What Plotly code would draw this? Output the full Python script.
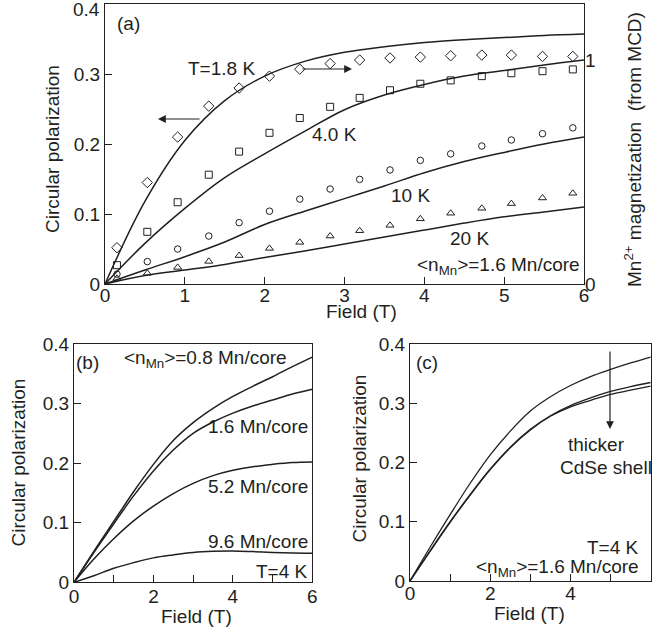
import plotly.graph_objects as go

# ---------------- data ----------------
# Panel (a): lines = circular polarization, markers = Mn2+ magnetization (right axis)
field_a = [0, 0.5, 1.0, 1.5, 2.0, 2.5, 3.0, 3.5, 4.0, 4.5, 5.0, 5.5, 6.0]
pol_18K = [0, 0.118, 0.205, 0.262, 0.297, 0.318, 0.331, 0.339, 0.345, 0.349, 0.352, 0.355, 0.357]
pol_40K = [0, 0.058, 0.108, 0.152, 0.186, 0.218, 0.249, 0.27, 0.285, 0.297, 0.305, 0.313, 0.32]
pol_10K = [0, 0.02, 0.039, 0.06, 0.085, 0.104, 0.122, 0.14, 0.159, 0.175, 0.188, 0.2, 0.21]
pol_20K = [0, 0.012, 0.02, 0.028, 0.038, 0.047, 0.057, 0.067, 0.077, 0.087, 0.096, 0.103, 0.11]

field_m = [0.15, 0.53, 0.91, 1.30, 1.68, 2.06, 2.44, 2.82, 3.19, 3.57, 3.95, 4.33, 4.72, 5.09, 5.48, 5.86]
mag_18K = [0.162, 0.453, 0.656, 0.794, 0.875, 0.928, 0.959, 0.984, 1.0, 1.009, 1.013, 1.019, 1.022, 1.022, 1.016, 1.016]
mag_40K = [0.084, 0.233, 0.365, 0.488, 0.591, 0.675, 0.741, 0.791, 0.831, 0.865, 0.894, 0.909, 0.928, 0.941, 0.95, 0.958]
mag_10K = [0.044, 0.1, 0.156, 0.214, 0.274, 0.325, 0.379, 0.424, 0.467, 0.509, 0.552, 0.581, 0.616, 0.643, 0.671, 0.697]
mag_20K = [0.025, 0.048, 0.074, 0.101, 0.127, 0.159, 0.186, 0.214, 0.238, 0.262, 0.291, 0.316, 0.338, 0.359, 0.384, 0.405]

# Panel (b): T = 4 K, different Mn concentrations
field_b = [0, 0.5, 1.0, 1.5, 2.0, 2.5, 3.0, 3.5, 4.0, 4.5, 5.0, 5.5, 6.0]
pol_08 = [0, 0.052, 0.102, 0.152, 0.198, 0.238, 0.268, 0.292, 0.312, 0.329, 0.345, 0.362, 0.378]
pol_16 = [0, 0.05, 0.098, 0.145, 0.187, 0.222, 0.25, 0.269, 0.284, 0.296, 0.306, 0.316, 0.324]
pol_52 = [0, 0.039, 0.073, 0.103, 0.128, 0.149, 0.166, 0.179, 0.188, 0.194, 0.198, 0.201, 0.202]
pol_96 = [0, 0.011, 0.0235, 0.033, 0.041, 0.046, 0.05, 0.052, 0.0526, 0.0515, 0.05, 0.049, 0.0487]

# Panel (c): T = 4 K, 1.6 Mn/core, increasing CdSe shell thickness
field_c = [0, 0.5, 1.0, 1.5, 2.0, 2.5, 3.0, 3.5, 4.0, 4.5, 5.0, 5.5, 6.0]
pol_shell1 = [0, 0.057, 0.112, 0.165, 0.213, 0.253, 0.287, 0.311, 0.33, 0.345, 0.357, 0.368, 0.378]
pol_shell2 = [0, 0.051, 0.1, 0.146, 0.189, 0.226, 0.256, 0.279, 0.296, 0.309, 0.32, 0.328, 0.335]
pol_shell3 = [0, 0.05, 0.099, 0.145, 0.188, 0.225, 0.255, 0.278, 0.294, 0.305, 0.315, 0.322, 0.329]

pol_ticks = [0, 0.1, 0.2, 0.3, 0.4]
pol_ticktext = ["0", "0.1", "0.2", "0.3", "0.4"]
mag_ticks = [0, 1]
mag_ticktext = ["0", "1"]
field_ticks_a = [0, 1, 2, 3, 4, 5, 6]
field_ticks_bc = [0, 2, 4, 6]

# ---------------- styling ----------------
W, H = 654, 632
INK = "#231f20"
FONT = "Liberation Sans, Arial, Helvetica, sans-serif"
FS = 19


def px(x):
    return x / W


def py(y):
    return 1 - y / H


fig = go.Figure()

line_style = dict(color=INK, width=1.5, shape="spline", smoothing=1.0)

for ys in (pol_18K, pol_40K, pol_10K, pol_20K):
    fig.add_trace(go.Scatter(x=field_a, y=ys, mode="lines", line=line_style,
                             xaxis="x", yaxis="y", showlegend=False))

for ys, sym, sz in ((mag_18K, "diamond-open", 8), (mag_40K, "square-open", 7),
                    (mag_10K, "circle-open", 6.5), (mag_20K, "triangle-up-open", 7)):
    fig.add_trace(go.Scatter(x=field_m, y=ys, mode="markers",
                             marker=dict(symbol=sym, size=sz, color=INK, line=dict(color=INK, width=1)),
                             xaxis="x", yaxis="y2", showlegend=False))

for ys in (pol_08, pol_16, pol_52, pol_96):
    fig.add_trace(go.Scatter(x=field_b, y=ys, mode="lines", line=line_style,
                             xaxis="x2", yaxis="y3", showlegend=False))

for ys in (pol_shell1, pol_shell2, pol_shell3):
    fig.add_trace(go.Scatter(x=field_c, y=ys, mode="lines",
                             line=dict(color=INK, width=1.3, shape="spline", smoothing=1.0),
                             xaxis="x3", yaxis="y4", showlegend=False))

axis_common = dict(showline=True, linecolor=INK, linewidth=1.2, mirror=True,
                   ticks="inside", ticklen=7, tickwidth=1, tickcolor=INK,
                   showgrid=False, zeroline=False, automargin=False,
                   tickfont=dict(family=FONT, size=FS, color=INK))

dom_a_x = [px(105), px(584)]
dom_a_y = [py(284), py(4)]
dom_b_x = [px(74), px(312.3)]
dom_b_y = [py(582.3), py(344)]
dom_c_x = [px(410), px(650.7)]
dom_c_y = [py(581), py(344)]

# the top label of panel (a) sits at the figure edge; it is drawn as a shifted annotation
pol_ticktext_a = pol_ticktext[:-1] + [""]

fig.update_layout(
    width=W, height=H,
    margin=dict(l=0, r=0, t=0, b=0, autoexpand=False),
    paper_bgcolor="white", plot_bgcolor="white",
    font=dict(family=FONT, size=FS, color=INK),
    xaxis=dict(domain=dom_a_x, anchor="y", range=[0, 6], tickvals=field_ticks_a,
               ticklabelstandoff=-6, **axis_common),
    yaxis=dict(domain=dom_a_y, anchor="x", range=[0, 0.4], tickvals=pol_ticks, ticktext=pol_ticktext_a, **axis_common),
    yaxis2=dict(overlaying="y", anchor="x", side="right", range=[0, 1.25], tickvals=mag_ticks,
                ticktext=mag_ticktext, ticks="", showline=False, showgrid=False, zeroline=False,
                automargin=False, tickfont=dict(family=FONT, size=FS, color=INK)),
    xaxis2=dict(domain=dom_b_x, anchor="y3", range=[0, 6], tickvals=field_ticks_bc, ticklabelstandoff=-3,
                minor=dict(dtick=1, ticks="inside", ticklen=7, tickcolor=INK, tickwidth=1), **axis_common),
    yaxis3=dict(domain=dom_b_y, anchor="x2", range=[0, 0.4], tickvals=pol_ticks, ticktext=pol_ticktext, **axis_common),
    xaxis3=dict(domain=dom_c_x, anchor="y4", range=[0, 6], tickvals=field_ticks_bc, ticklabelstandoff=-5,
                minor=dict(dtick=1, ticks="inside", ticklen=7, tickcolor=INK, tickwidth=1), **axis_common),
    yaxis4=dict(domain=dom_c_y, anchor="x3", range=[0, 0.4], tickvals=pol_ticks, ticktext=pol_ticktext, **axis_common),
)

anns = []


def txt(x, y, s, xanchor="center", yanchor="middle", angle=0, size=FS):
    anns.append(dict(x=px(x), y=py(y), xref="paper", yref="paper", text=s, showarrow=False,
                     xanchor=xanchor, yanchor=yanchor, textangle=angle,
                     font=dict(family=FONT, size=size, color=INK)))


def arrow(hx, hy, tx, ty):
    anns.append(dict(x=px(hx), y=py(hy), xref="paper", yref="paper", text="",
                     showarrow=True, ax=tx - hx, ay=ty - hy, arrowhead=2, arrowsize=1.3,
                     arrowwidth=1.2, arrowcolor=INK))


nmn = "&lt;n<sub>Mn</sub>&gt;"

# panel (a)
txt(102, 10, pol_ticktext[-1], xanchor="right")
txt(128, 24, "(a)")
txt(221, 68, "T=1.8 K")
txt(334, 134, "4.0 K")
txt(410, 195, "10 K")
txt(470, 238, "20 K")
txt(582, 266, nmn + "=1.6 Mn/core", xanchor="right")
arrow(158, 119, 201, 119)
arrow(352, 69, 301, 69)
txt(52, 149, "Circular polarization", angle=-90)
txt(361, 311, "Field (T)")
txt(633, 150, "Mn<sup>2+</sup> magnetization  (from MCD)", angle=-90)

# panel (b)
txt(88, 363, "(b)")
txt(289, 359, nmn + "=0.8 Mn/core", xanchor="right")
txt(310, 426, "1.6 Mn/core", xanchor="right")
txt(310, 486, "5.2 Mn/core", xanchor="right")
txt(310, 541, "9.6 Mn/core", xanchor="right")
txt(310, 571, "T=4 K", xanchor="right")
txt(17.5, 463, "Circular polarization", angle=-90)
txt(196.7, 616, "Field (T)")

# panel (c)
txt(427, 363, "(c)")
txt(596, 444, "thicker")
txt(606, 468, "CdSe shell")
txt(641, 547, "T=4 K", xanchor="right")
txt(641, 568, nmn + "=1.6 Mn/core", xanchor="right")
arrow(610, 429, 610, 350)
txt(358.5, 459, "Circular polarization", angle=-90)
txt(529, 613, "Field (T)")

fig.update_layout(annotations=anns)

fig.write_html("out.html", config={"displayModeBar": False},
               post_script="document.body.style.margin='0px';")
